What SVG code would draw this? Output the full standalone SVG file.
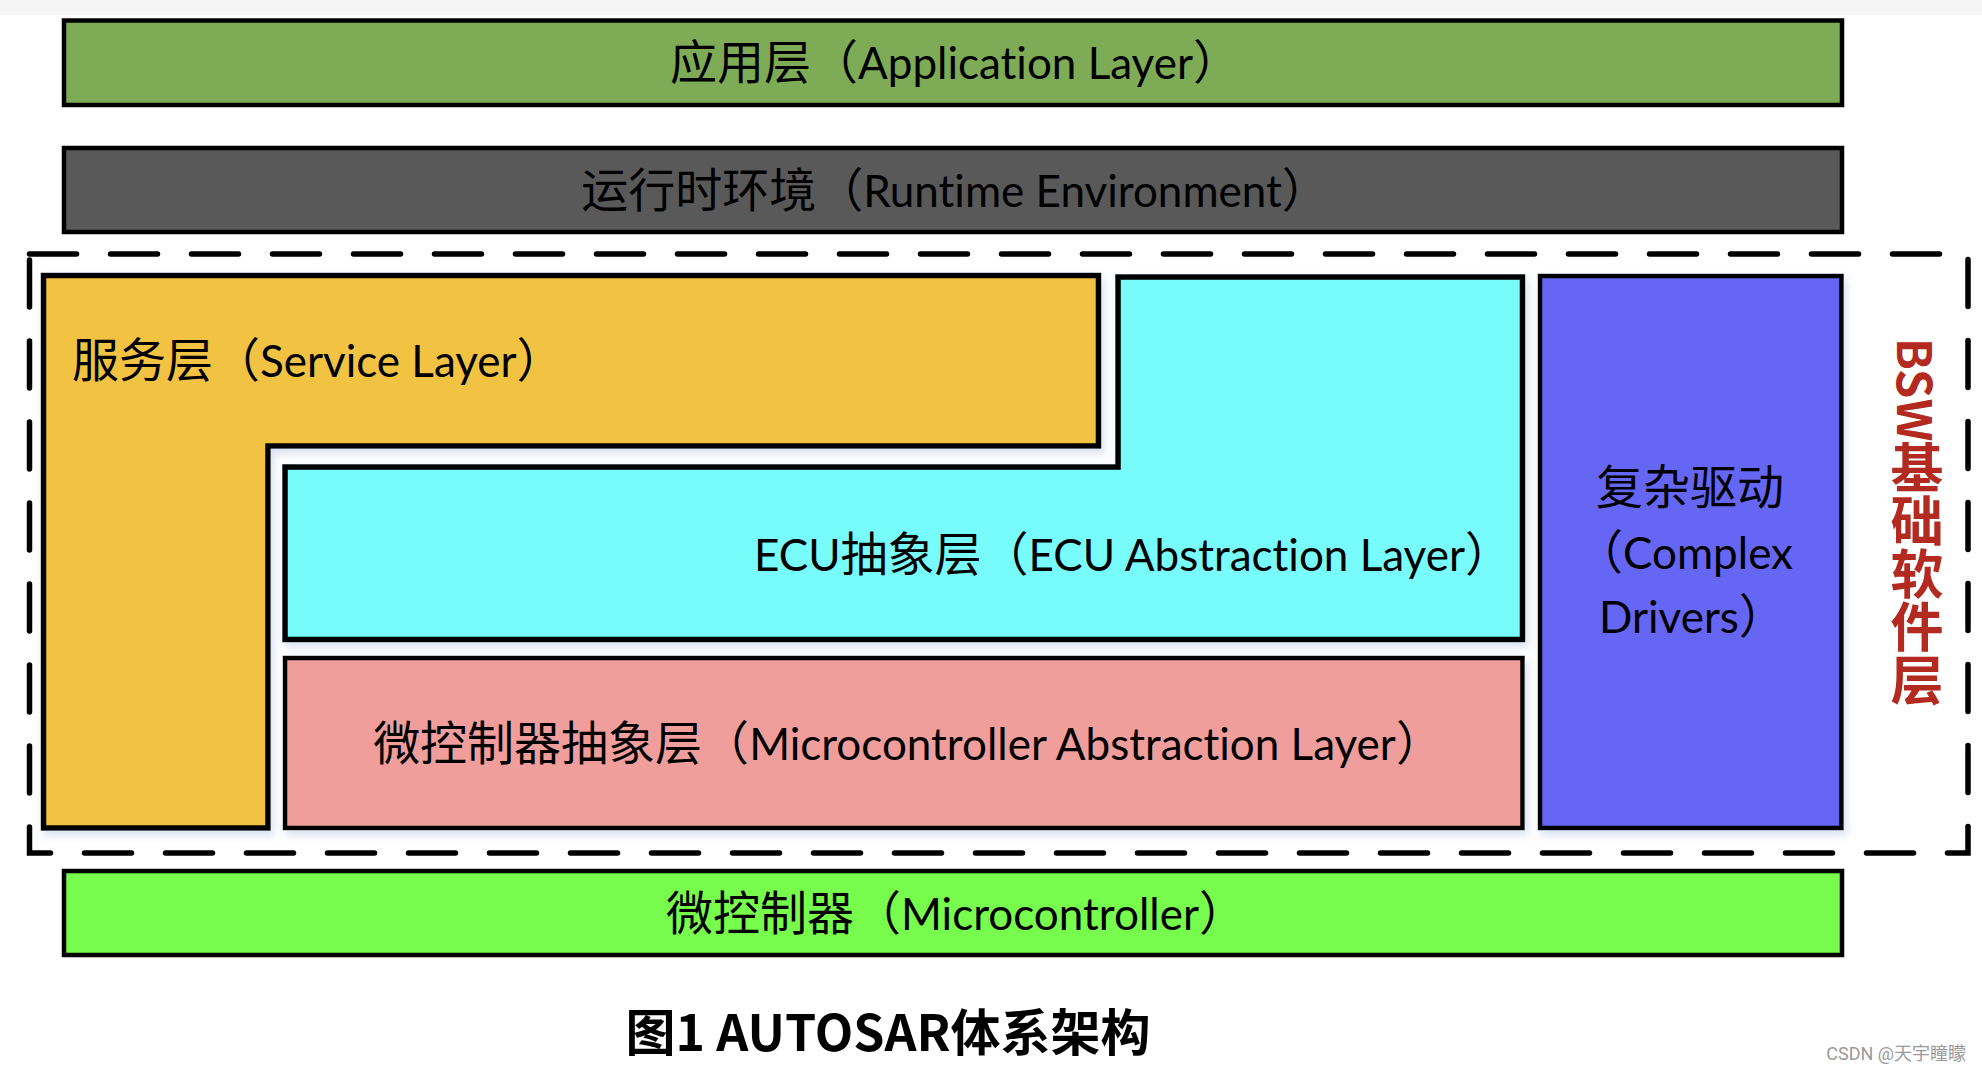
<svg xmlns="http://www.w3.org/2000/svg" width="1982" height="1073" viewBox="0 0 1982 1073">
  <defs>
    <filter id="glow" x="-5%" y="-5%" width="110%" height="115%">
      <feDropShadow dx="3" dy="5" stdDeviation="4" flood-color="#a9bbdb" flood-opacity="0.45"/>
    </filter>
    <style>
      .box { stroke: #000; stroke-width: 4.5; }
      .thick { stroke: #000; stroke-width: 5.5; stroke-linejoin: miter; }
      .lbl { font-family: "Noto Sans CJK SC", "Noto Sans", sans-serif; font-size: 47px; fill: #000; }
      .en { font-family: Lato, "Noto Sans CJK SC", sans-serif; font-size: 44px; font-variant-ligatures: none; }
      .mid { text-anchor: middle; }
      .title { font-family: "Noto Sans CJK SC", "Noto Sans", sans-serif; font-size: 50px; font-weight: bold; fill: #000; text-anchor: middle; }
      .bsw { font-family: "Noto Sans CJK SC", "Noto Sans", sans-serif; font-weight: bold; fill: #b22a20; writing-mode: vertical-rl; }
      .wm { font-family: "Roboto", "Noto Sans CJK SC", sans-serif; font-size: 18px; fill: #9a9a9a; text-anchor: end; }
    </style>
  </defs>

  <rect x="0" y="0" width="1982" height="1073" fill="#ffffff"/>
  <rect x="0" y="0" width="1982" height="15" fill="#f5f5f5"/>

  <g id="app-layer">
    <rect class="box" x="64" y="20.5" width="1778" height="84.5" fill="#7eab56"/>
    <text class="lbl mid" x="955" y="79">应用层（<tspan class="en">Application Layer</tspan>）</text>
  </g>

  <g id="rte">
    <rect class="box" x="64" y="148" width="1778" height="84" fill="#595959"/>
    <text class="lbl mid" x="955" y="207">运行时环境（<tspan class="en">Runtime Environment</tspan>）</text>
  </g>

  <g id="bsw">
    <rect x="29.5" y="254" width="1938.5" height="599" fill="none" stroke="#000" stroke-width="5.5" stroke-dasharray="47 34" stroke-linecap="round"/>
    <text class="bsw" x="1917" y="338"><tspan font-size="47">BSW</tspan><tspan font-size="53">基础软件层</tspan></text>
  </g>

  <g id="service-layer">
    <path class="thick" filter="url(#glow)" d="M43.5 275.5 H1098.5 V446 H268 V828 H43.5 Z" fill="#f2c243"/>
    <text class="lbl" x="72" y="377">服务层（<tspan class="en">Service Layer</tspan>）</text>
  </g>

  <g id="ecu-abstraction">
    <path class="thick" filter="url(#glow)" d="M1118 277 H1522.5 V639.5 H285 V467 H1118 Z" fill="#77fbfb"/>
    <text class="lbl mid" x="1133" y="571"><tspan class="en">ECU</tspan>抽象层（<tspan class="en">ECU Abstraction Layer</tspan>）</text>
  </g>

  <g id="mcal">
    <rect class="box" filter="url(#glow)" x="285" y="658" width="1237.5" height="170" fill="#f09e9b"/>
    <text class="lbl mid" x="908" y="760">微控制器抽象层（<tspan class="en">Microcontroller Abstraction Layer</tspan>）</text>
  </g>

  <g id="complex-drivers">
    <rect class="box" filter="url(#glow)" x="1540" y="276" width="301.5" height="552" fill="#6666f4"/>
    <text class="lbl" x="1596" y="504">复杂驱动</text>
    <text class="lbl" x="1576" y="569">（<tspan class="en">Complex</tspan></text>
    <text class="lbl" x="1599" y="633"><tspan class="en">Drivers</tspan>）</text>
  </g>

  <g id="microcontroller">
    <rect class="box" x="64" y="871" width="1778" height="84" fill="#77fb4c"/>
    <text class="lbl mid" x="956" y="930">微控制器（<tspan class="en">Microcontroller</tspan>）</text>
  </g>

  <g id="connectors"></g>

  <text class="title" x="888" y="1051">图1 AUTOSAR体系架构</text>
  <text class="wm" x="1966" y="1060">CSDN @天宇瞳矇</text>
</svg>
